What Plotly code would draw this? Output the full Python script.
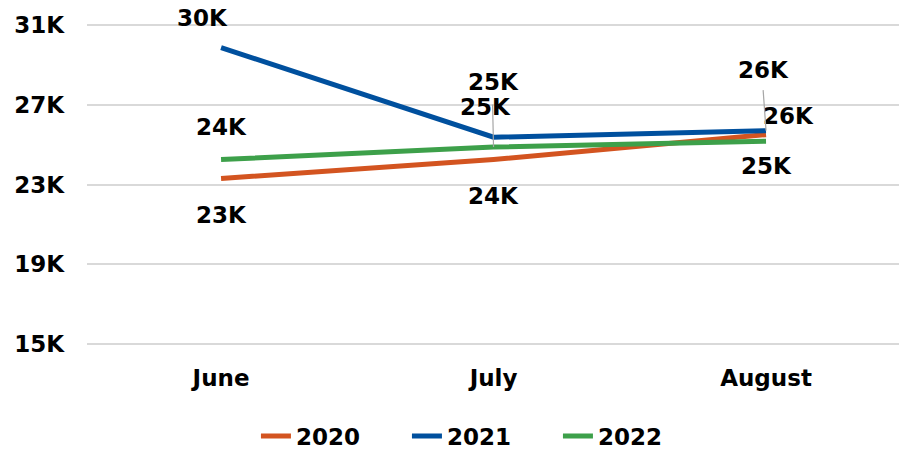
import plotly.graph_objects as go

months = ["June", "July", "August"]
series_names = ["2020", "2021", "2022"]
values_2020 = [23300, 24250, 25500]
values_2021 = [29870, 25370, 25700]
values_2022 = [24250, 24880, 25170]
colors = ["#D35420", "#00509E", "#3DA04A"]
y_ticks = [15000, 19000, 23000, 27000, 31000]
y_tick_labels = ["15K", "19K", "23K", "27K", "31K"]

all_values = [values_2020, values_2021, values_2022]
FONT = "DejaVu Sans"
FS = 23

fig = go.Figure()
xs = list(range(len(months)))
for name, vals, col in zip(series_names, all_values, colors):
    fig.add_trace(go.Scatter(x=xs, y=vals, mode="lines", name=name,
                             line=dict(color=col, width=5)))

def fmt(v):
    return f"{round(v / 1000):.0f}K"

# label pixel offsets (xshift, yshift) per series per month
offsets = {
    "2020": [(0, -36), (0, -36), (22, 19)],
    "2021": [(-19, 30), (0, 55), (-3, 61)],
    "2022": [(0, 33), (-8, 40), (0, -25)],
}
annotations = []
for name, vals in zip(series_names, all_values):
    for i, v in enumerate(vals):
        dx, dy = offsets[name][i]
        annotations.append(dict(x=i, y=v, xref="x", yref="y", text=fmt(v),
                                showarrow=False, xshift=dx, yshift=dy,
                                font=dict(family=FONT, size=FS, color="black", weight="bold")))
# leader lines
leaders = [(1, values_2022[1], -1, -44), (2, values_2021[2], -3, -42)]
for x, y, ax, ay in leaders:
    annotations.append(dict(x=x, y=y, xref="x", yref="y", text="", showarrow=True,
                            arrowhead=0, arrowwidth=1.2, arrowcolor="#A6A6A6",
                            ax=ax, ay=ay))

fig.update_layout(
    width=899, height=449,
    margin=dict(l=87, r=0, t=21, b=101, autoexpand=False),
    plot_bgcolor="white", paper_bgcolor="white",
    font=dict(family=FONT, size=FS, color="black", weight="bold"),
    showlegend=True,
    legend=dict(orientation="h", x=0.487, xanchor="center", yref="container",
                y=0.029, yanchor="middle",
                font=dict(family=FONT, size=FS, color="black", weight="bold"),
                entrywidth=106, entrywidthmode="pixels"),
    annotations=annotations,
)
fig.update_xaxes(tickvals=xs, ticktext=months, range=[-0.492, 2.488],
                 showgrid=False, zeroline=False, showline=False, ticks="",
                 ticklabelstandoff=14,
                 tickfont=dict(family=FONT, size=FS, color="black", weight="bold"))
fig.update_yaxes(range=[14800, 31200], tickvals=y_ticks, ticktext=y_tick_labels,
                 showgrid=True, gridcolor="#D9D9D9", gridwidth=1.5, zeroline=False,
                 showline=False, ticks="", ticklabelstandoff=22,
                 tickfont=dict(family=FONT, size=FS, color="black", weight="bold"))

fig.write_html("out.html", config={"displayModeBar": False},
               post_script="document.body.style.margin='0';document.body.style.overflow='hidden';")
